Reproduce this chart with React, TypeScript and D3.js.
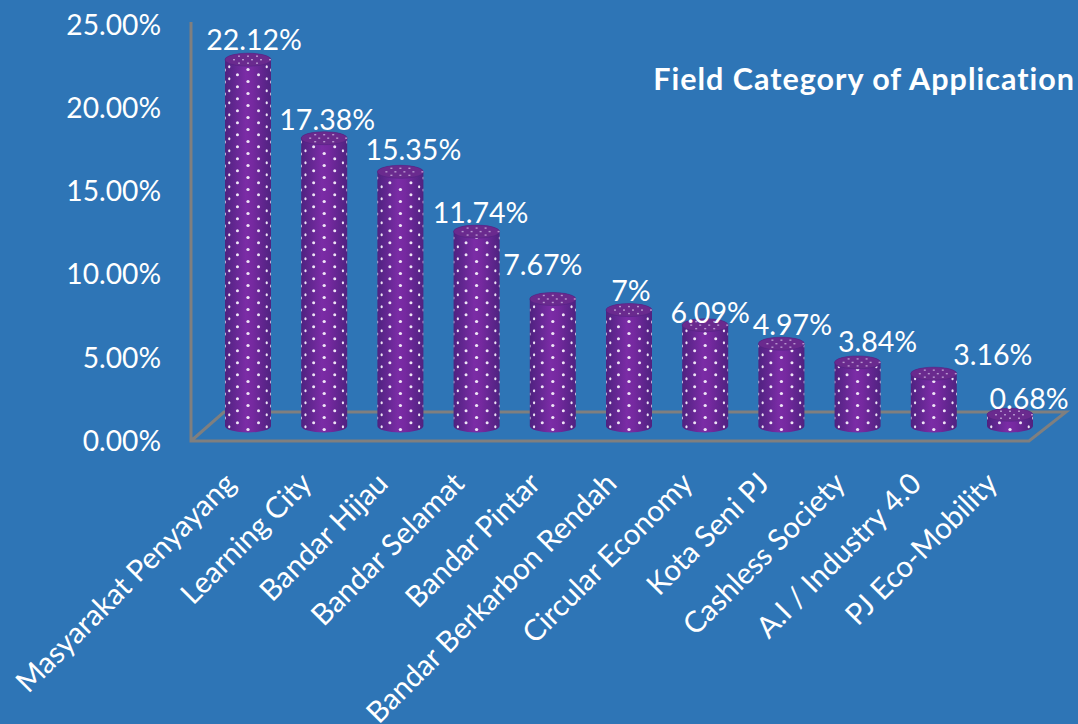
import React from "react";
import * as d3 from "d3";

const categories = ["Masyarakat Penyayang","Learning City","Bandar Hijau","Bandar Selamat","Bandar Pintar","Bandar Berkarbon Rendah","Circular Economy","Kota Seni PJ","Cashless Society","A.I / Industry 4.0","PJ Eco-Mobility"];
const values = [22.12,17.38,15.35,11.74,7.67,7,6.09,4.97,3.84,3.16,0.68];
const valueLabels = ["22.12%","17.38%","15.35%","11.74%","7.67%","7%","6.09%","4.97%","3.84%","3.16%","0.68%"];
const yTicks = [0,5,10,15,20,25];
// manual label nudges (the source chart's labels were hand-placed)
const labelDx = [6,3,13,4,-10,2,5,11,20,59,19];
const labelDy = [-10,-8,-12,-9,-24,-9,-2,-9,-10,-9,-6];

const W = 1078, H = 724;
const FONT = "Lato, 'Open Sans', sans-serif";
const BG = "#2e75b6";
const AXIS = "#7f7f7f";
const R = 23, RY = 6.5;
const COLS = d3.range(-3, 4);

export default function App() {
  const x = d3.scalePoint<string>().domain(categories).range([248, 1010]);
  const yBar = d3.scaleLinear().domain([0, 25]).range([426, 12]);
  const yTick = d3.scaleLinear().domain([0, 25]).range([441, 25]);
  const rowStep = 6;

  return (
    <svg width={W} height={H} style={{ position: "absolute", left: 0, top: 0, background: BG }} fontFamily={FONT}>
      <defs>
        <linearGradient id="cyl" x1="0" x2="1" y1="0" y2="0">
          <stop offset="0" stopColor="#4f2280" />
          <stop offset="0.45" stopColor="#7b2ca6" />
          <stop offset="0.6" stopColor="#7629a0" />
          <stop offset="1" stopColor="#4f2280" />
        </linearGradient>
      </defs>

      <g stroke={AXIS} strokeWidth={3} fill="none">
        <path d="M191,22 V441 H1029 L1066,412 H224 L191,441" />
      </g>

      {yTicks.map((t) => (
        <text key={t} x={161} y={yTick(t)} dy="0.35em" textAnchor="end" fill="#fff" fontSize={28.2}>
          {t.toFixed(2)}%
        </text>
      ))}

      {categories.map((c, i) => {
        const cxv = x(c) as number;
        const yTop = yBar(values[i]);
        const base = yBar(0);
        const body = `M${cxv - R},${yTop} V${base} A${R},${RY} 0 0 0 ${cxv + R},${base} V${yTop} A${R},${RY} 0 0 0 ${cxv - R},${yTop} Z`;
        const rows = d3.range(0, Math.ceil((base - yTop + 2 * RY) / rowStep) + 1);
        return (
          <g key={c}>
            <clipPath id={`clip${i}`}><path d={body} /></clipPath>
            <path d={body} fill="url(#cyl)" />
            <g clipPath={`url(#clip${i})`}>
              {rows.flatMap((r) =>
                COLS.filter((k) => (k + r) % 2 === 0).map((k) => {
                  const th = (k / 3.3) * (Math.PI / 2);
                  const px = cxv + R * Math.sin(th);
                  const py = base + RY * Math.cos(th) - 3 - r * rowStep;
                  if (py < yTop + RY * Math.cos(th) * 0.9) return null;
                  return <ellipse key={`${r}-${k}`} cx={px} cy={py} rx={1.3 * Math.cos(th) + 0.35} ry={1.55} fill="#f6eefb" opacity={0.95} />;
                })
              )}
            </g>
            <ellipse cx={cxv} cy={yTop} rx={R} ry={RY} fill="#6a2a8e" stroke="#4f2280" strokeWidth={0.5} />
            {d3.range(-2, 3).flatMap((k) =>
              d3.range(-1, 2).map((m) => (
                <rect key={`t${k}${m}`} x={cxv + k * 9 + (m === 0 ? 4 : 0) - 1} y={yTop + m * 3.5 - 0.7} width={2} height={1.4} fill="#d9c4ea" opacity={Math.abs(k) === 2 && m !== 0 ? 0 : 0.7} />
              ))
            )}
            <text x={cxv + labelDx[i]} y={yTop + labelDy[i]} textAnchor="middle" fill="#fff" fontSize={28.5}>
              {valueLabels[i]}
            </text>
            <text transform={`translate(${cxv - 18},478) rotate(-45)`} textAnchor="end" dy="0.35em" fill="#fff" fontSize={29.5}>
              {c}
            </text>
          </g>
        );
      })}

      <text x={1075} y={90} textAnchor="end" fill="#fff" fontWeight={700} fontSize={30.5} letterSpacing={1}>
        Field Category of Application
      </text>
    </svg>
  );
}
